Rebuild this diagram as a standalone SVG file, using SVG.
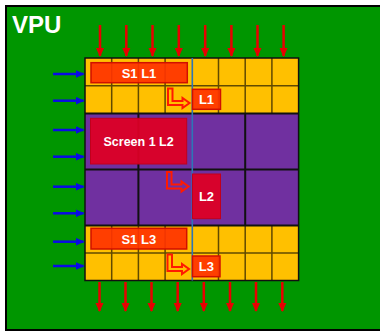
<svg xmlns="http://www.w3.org/2000/svg" width="380" height="334" viewBox="0 0 380 334">
<defs>
<style>
.lbl{font-family:"Liberation Sans",Arial,sans-serif;font-weight:bold;fill:#ffffff;text-anchor:middle;dominant-baseline:central}
.ygrid{stroke:#3a2c00;stroke-opacity:0.8;stroke-width:1.5;fill:none}
.pgrid{stroke:#111111;stroke-width:2;fill:none}
.bar{fill:#ff3300;stroke:#d01000;stroke-width:1.5;fill-opacity:0.92}
.crim{fill:#dc0026;stroke:#c0001c;stroke-width:1;fill-opacity:0.95}
.bent{fill:none;stroke:#ff1a00;stroke-width:2;stroke-linejoin:miter}
.rarr{stroke:#e80000;stroke-width:2.5;marker-end:url(#rh)}
.barr{stroke:#0a0ae6;stroke-width:2.5;marker-end:url(#bh)}
</style>
<marker id="rh" markerUnits="userSpaceOnUse" markerWidth="9" markerHeight="9" refX="8" refY="4" orient="auto" viewBox="0 0 9 8">
<path d="M0,0 L9,4 L0,8 z" fill="#e80000"/>
</marker>
<marker id="bh" markerUnits="userSpaceOnUse" markerWidth="9" markerHeight="8" refX="8" refY="4" orient="auto" viewBox="0 0 9 8">
<path d="M0,0 L9,4 L0,8 z" fill="#0a0ae6"/>
</marker>
</defs>
<rect x="0" y="0" width="380" height="334" fill="#ffffff"/>
<rect x="6" y="6" width="376" height="324" fill="#009600" stroke="#000000" stroke-width="2"/>
<text x="12" y="33" font-family="Liberation Sans,Arial,sans-serif" font-weight="bold" font-size="24" fill="#ffffff">VPU</text>

<g id="grid">
<rect x="85" y="58" width="213.6" height="55.5" fill="#ffc000"/>
<rect x="85" y="113.5" width="213.6" height="112" fill="#7030a0"/>
<rect x="85" y="225.5" width="213.6" height="55" fill="#ffc000"/>
<path class="ygrid" d="M85,85.7H298.6 M111.7,58V113.5 M138.4,58V113.5 M165.1,58V113.5 M218.5,58V113.5 M245.2,58V113.5 M271.9,58V113.5"/>
<path class="ygrid" d="M85,253H298.6 M111.7,225.5V280.5 M138.4,225.5V280.5 M165.1,225.5V280.5 M218.5,225.5V280.5 M245.2,225.5V280.5 M271.9,225.5V280.5"/>
<path class="pgrid" d="M85,113.5H298.6 M85,169.5H298.6 M85,225.5H298.6 M138.4,113.5V225.5 M245.2,113.5V225.5"/>
<rect x="85" y="58" width="213.6" height="222.5" fill="none" stroke="#111111" stroke-width="1.5"/>
<line x1="192.3" y1="58" x2="192.3" y2="280.5" stroke="#2e75b6" stroke-width="1.6"/>
</g>

<g id="s1l1"><rect class="bar" x="91" y="62.7" width="96.3" height="20"/><text class="lbl" x="139" y="73" font-size="13">S1 L1</text></g>
<g id="l1"><rect class="bar" x="192.5" y="89.3" width="28" height="20"/><text class="lbl" x="206.5" y="99.5" font-size="13">L1</text></g>
<g id="screen1l2"><rect class="crim" x="90.5" y="118.3" width="96.2" height="45.7"/><text class="lbl" x="138.6" y="142" font-size="12.5">Screen 1 L2</text></g>
<g id="l2"><rect class="crim" x="192.5" y="174" width="28" height="44.7"/><text class="lbl" x="206.5" y="196.5" font-size="13">L2</text></g>
<g id="s1l3"><rect class="bar" x="91" y="228.3" width="95.7" height="20.7"/><text class="lbl" x="138.8" y="239" font-size="13">S1 L3</text></g>
<g id="l3"><rect class="bar" x="192.5" y="256" width="27.5" height="20.7"/><text class="lbl" x="206.3" y="266.5" font-size="13">L3</text></g>

<g id="connectors">
<path class="bent" d="M168,88.5 h4.5 v12.5 h10 v-3 l7,5 l-7,5 v-3 h-14.5 z"/>
<path class="bent" d="M167,172 h4.5 v12.5 h10 v-3 l7,5 l-7,5 v-3 h-14.5 z"/>
<path class="bent" d="M167.5,254.5 h4.5 v12.5 h10 v-3 l7,5 l-7,5 v-3 h-14.5 z"/>

<line class="rarr" x1="100" y1="25" x2="100" y2="56"/>
<line class="rarr" x1="126.3" y1="25" x2="126.3" y2="56"/>
<line class="rarr" x1="152.5" y1="25" x2="152.5" y2="56"/>
<line class="rarr" x1="178.8" y1="25" x2="178.8" y2="56"/>
<line class="rarr" x1="205.2" y1="25" x2="205.2" y2="56"/>
<line class="rarr" x1="231.4" y1="25" x2="231.4" y2="56"/>
<line class="rarr" x1="257.5" y1="25" x2="257.5" y2="56"/>
<line class="rarr" x1="283.6" y1="25" x2="283.6" y2="56"/>

<line class="rarr" x1="99.5" y1="282" x2="99.5" y2="311"/>
<line class="rarr" x1="125.5" y1="282" x2="125.5" y2="311"/>
<line class="rarr" x1="151.5" y1="282" x2="151.5" y2="311"/>
<line class="rarr" x1="177.7" y1="282" x2="177.7" y2="311"/>
<line class="rarr" x1="203.8" y1="282" x2="203.8" y2="311"/>
<line class="rarr" x1="230" y1="282" x2="230" y2="311"/>
<line class="rarr" x1="256" y1="282" x2="256" y2="311"/>
<line class="rarr" x1="282.3" y1="282" x2="282.3" y2="311"/>

<line class="barr" x1="53" y1="74" x2="83.5" y2="74"/>
<line class="barr" x1="53" y1="100.7" x2="83.5" y2="100.7"/>
<line class="barr" x1="53" y1="130" x2="83.5" y2="130"/>
<line class="barr" x1="53" y1="156.7" x2="83.5" y2="156.7"/>
<line class="barr" x1="53" y1="186.7" x2="83.5" y2="186.7"/>
<line class="barr" x1="53" y1="213.3" x2="83.5" y2="213.3"/>
<line class="barr" x1="53" y1="241.7" x2="83.5" y2="241.7"/>
<line class="barr" x1="53" y1="266" x2="83.5" y2="266"/>
</g>
</svg>
